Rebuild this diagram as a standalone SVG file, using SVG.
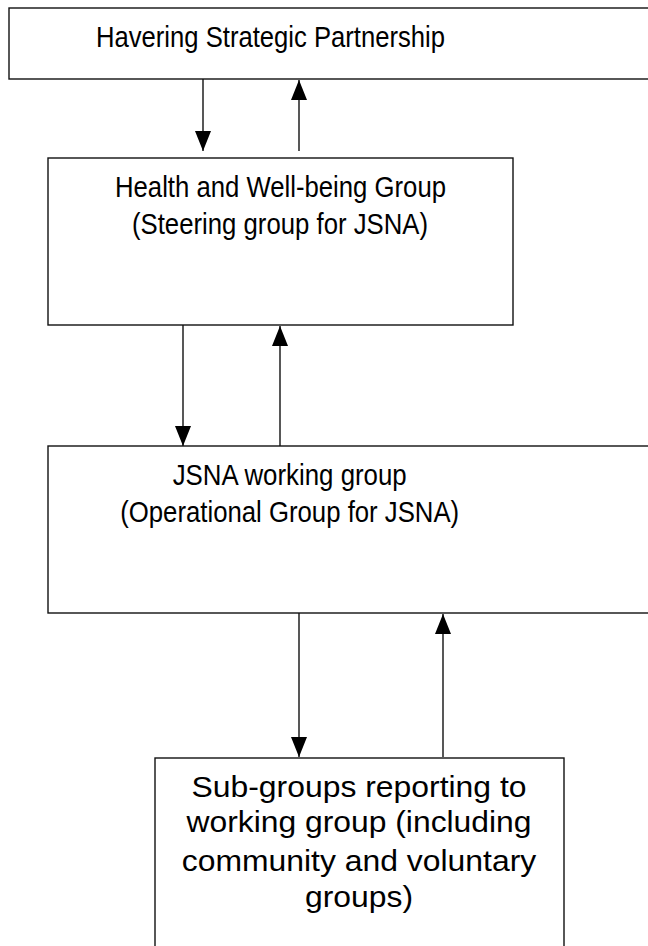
<svg xmlns="http://www.w3.org/2000/svg" width="648" height="946" viewBox="0 0 648 946">
<style>
.box{fill:#fff;stroke:#111;stroke-width:1.4}
.t{font-family:"Liberation Sans",Arial,sans-serif;font-size:29px;fill:#000;text-anchor:middle}
.c{stroke:#111;stroke-width:1.4;fill:none;marker-end:url(#ah)}
</style>
<defs>
<marker id="ah" markerUnits="userSpaceOnUse" markerWidth="20" markerHeight="16" refX="20" refY="8" orient="auto" viewBox="0 0 20 16">
<path d="M0,0 L20,8 L0,16 z" fill="#000"/>
</marker>
</defs>
<rect width="648" height="946" fill="#fff"/>
<g id="connectors">
<line class="c" x1="203" y1="79" x2="203" y2="151"/>
<line class="c" x1="299" y1="151" x2="299" y2="80"/>
<line class="c" x1="183" y1="325" x2="183" y2="446"/>
<line class="c" x1="280" y1="446" x2="280" y2="326"/>
<line class="c" x1="299" y1="613" x2="299" y2="757"/>
<line class="c" x1="443" y1="757" x2="443" y2="614"/>
</g>
<g id="node-havering">
<rect class="box" x="9" y="8" width="660" height="71"/>
<text class="t" x="270.5" y="46.5" textLength="349" lengthAdjust="spacingAndGlyphs">Havering Strategic Partnership</text>
</g>
<g id="node-health">
<rect class="box" x="48" y="158" width="465" height="167"/>
<text class="t" x="280.5" y="197" textLength="331" lengthAdjust="spacingAndGlyphs">Health and Well-being Group</text>
<text class="t" x="280" y="233.5" textLength="296" lengthAdjust="spacingAndGlyphs">(Steering group for JSNA)</text>
</g>
<g id="node-jsna">
<rect class="box" x="48" y="446" width="620" height="167"/>
<text class="t" x="289.7" y="485" textLength="234" lengthAdjust="spacingAndGlyphs">JSNA working group</text>
<text class="t" x="289.7" y="521.5" textLength="339" lengthAdjust="spacingAndGlyphs">(Operational Group for JSNA)</text>
</g>
<g id="node-subgroups">
<rect class="box" x="155" y="758" width="409" height="200"/>
<text class="t" x="359" y="796.5" textLength="335" lengthAdjust="spacingAndGlyphs">Sub-groups reporting to</text>
<text class="t" x="359" y="832" textLength="345" lengthAdjust="spacingAndGlyphs">working group (including</text>
<text class="t" x="359" y="871" textLength="354.5" lengthAdjust="spacingAndGlyphs">community and voluntary</text>
<text class="t" x="359" y="906.5" textLength="108" lengthAdjust="spacingAndGlyphs">groups)</text>
</g>
</svg>
